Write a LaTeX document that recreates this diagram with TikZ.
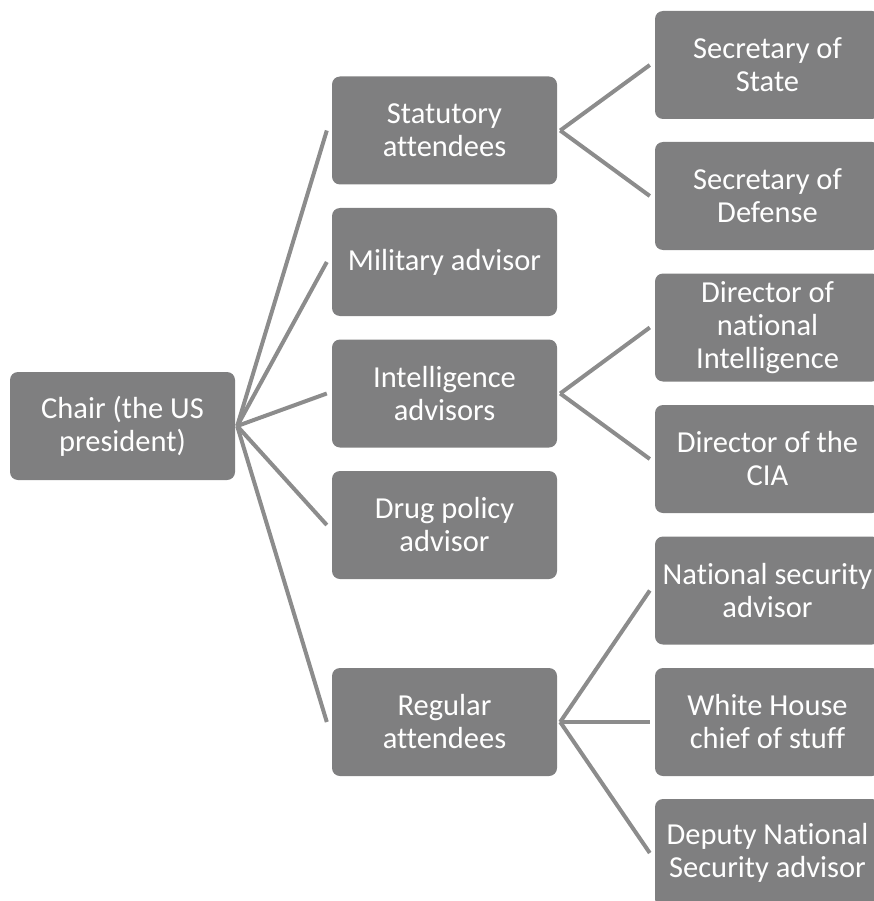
\documentclass[tikz,border=0pt]{standalone}
\usepackage{fontspec}
\setmainfont[Ligatures={NoCommon}]{Carlito}
\definecolor{boxgray}{HTML}{7F7F80}
\definecolor{linegray}{HTML}{8C8C8C}
\begin{document}
\begin{tikzpicture}[x=1pt,y=1pt,
  box/.style={draw=none,fill=boxgray,rounded corners=8pt,minimum width=225pt,minimum height=108pt,
    text=white,align=center,font=\fontsize{30.5}{33}\selectfont,inner sep=0pt},
  conn/.style={draw=linegray,line width=4pt}]
\useasboundingbox (0,0) rectangle (874,-901);
\clip (0,0) rectangle (874,-901);
% root
\node[box] (root) at (122.5,-426) {Chair (the US\\president)};
% middle
\node[box] (stat) at (444.5,-130.5) {Statutory\\attendees};
\node[box] (mil)  at (444.5,-262) {Military advisor};
\node[box] (intel) at (444.5,-393.5) {Intelligence\\advisors};
\node[box] (drug) at (444.5,-525) {Drug policy\\advisor};
\node[box] (reg)  at (444.5,-722) {Regular\\attendees};
% right
\node[box] (sos) at (767.5,-65) {Secretary of\\State};
\node[box] (sod) at (767.5,-196) {Secretary of\\Defense};
\node[box] (dni) at (767.5,-327.5) {Director of\\national\\Intelligence};
\node[box] (cia) at (767.5,-459) {Director of the\\CIA};
\node[box] (nsa) at (767.5,-590.5) {National security\\advisor};
\node[box] (wh)  at (767.5,-722) {White House\\chief of stuff};
\node[box] (dep) at (767.5,-853) {Deputy National\\Security advisor};
% connectors
\foreach \m in {stat,mil,intel,drug,reg}
  \draw[conn] ([xshift=2pt]root.east) -- ([xshift=-5pt]\m.west);
\foreach \r in {sos,sod}
  \draw[conn] ([xshift=3pt]stat.east) -- ([xshift=-5pt]\r.west);
\foreach \r in {dni,cia}
  \draw[conn] ([xshift=3pt]intel.east) -- ([xshift=-5pt]\r.west);
\foreach \r in {nsa,wh,dep}
  \draw[conn] ([xshift=3pt]reg.east) -- ([xshift=-5pt]\r.west);
\end{tikzpicture}
\end{document}
